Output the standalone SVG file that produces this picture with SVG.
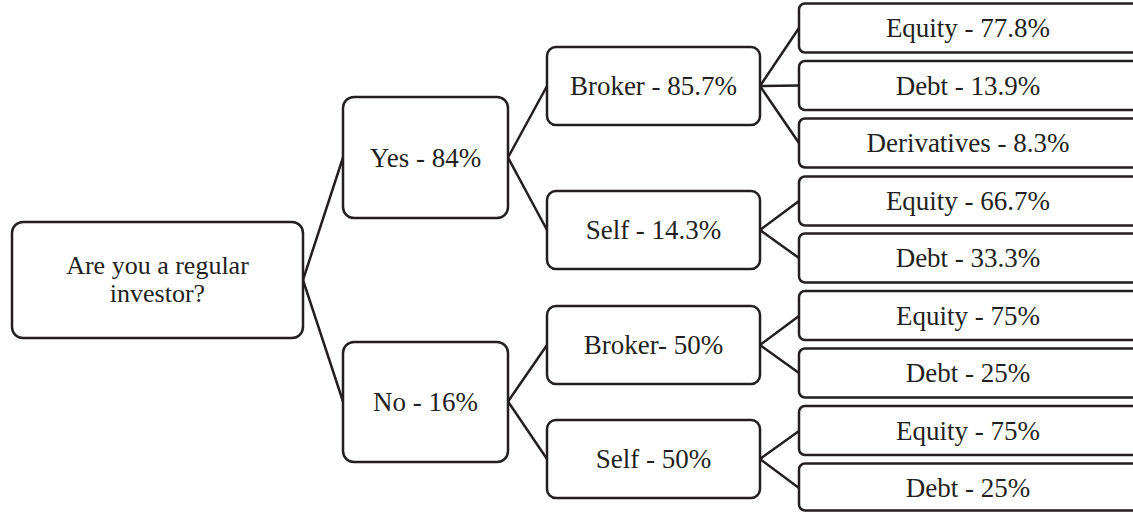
<svg xmlns="http://www.w3.org/2000/svg" width="1133" height="512" viewBox="0 0 1133 512">
<style>
.box{fill:#fff;stroke:#231f20;stroke-width:2.5}
.t{font-family:"Liberation Serif","Times New Roman",serif;font-size:27px;fill:#231f20;text-anchor:middle}
.c{fill:none;stroke:#231f20;stroke-width:2.5}
</style>
<g id="connectors">
<path class="c" d="M303,280 L343,157.5 M303,280 L343,401.5"/>
<path class="c" d="M508,157.5 L547,86 M508,157.5 L547,230"/>
<path class="c" d="M508,401.5 L547,345 M508,401.5 L547,459"/>
<path class="c" d="M760,86 L799,28 M760,86 L799,85.5 M760,86 L799,143"/>
<path class="c" d="M760,230 L799,201 M760,230 L799,258"/>
<path class="c" d="M760,345 L799,316 M760,345 L799,373"/>
<path class="c" d="M760,459 L799,431 M760,459 L799,488"/>
</g>
<g id="root"><rect class="box" x="12" y="222" width="291" height="116" rx="11"/><text class="t" x="157.5" y="273.5" style="font-size:26px">Are you a regular</text><text class="t" x="157.5" y="302" style="font-size:26px">investor?</text></g>
<g id="yes"><rect class="box" x="343" y="97" width="165" height="121" rx="11"/><text class="t" x="425.5" y="166.5">Yes - 84%</text></g>
<g id="no"><rect class="box" x="343" y="342" width="165" height="120" rx="11"/><text class="t" x="425.5" y="411">No - 16%</text></g>
<g id="broker1"><rect class="box" x="547" y="47" width="213" height="78" rx="9"/><text class="t" x="653.5" y="95">Broker - 85.7%</text></g>
<g id="self1"><rect class="box" x="547" y="191" width="213" height="78" rx="9"/><text class="t" x="653.5" y="239">Self - 14.3%</text></g>
<g id="broker2"><rect class="box" x="547" y="306" width="213" height="78" rx="9"/><text class="t" x="653.5" y="354">Broker- 50%</text></g>
<g id="self2"><rect class="box" x="547" y="420" width="213" height="78" rx="9"/><text class="t" x="653.5" y="468">Self - 50%</text></g>
<g id="leaf1"><rect class="box" x="799" y="3.5" width="345" height="49" rx="6"/><text class="t" x="968" y="37">Equity - 77.8%</text></g>
<g id="leaf2"><rect class="box" x="799" y="61" width="345" height="49" rx="6"/><text class="t" x="968" y="94.5">Debt - 13.9%</text></g>
<g id="leaf3"><rect class="box" x="799" y="118.5" width="345" height="49" rx="6"/><text class="t" x="968" y="152">Derivatives - 8.3%</text></g>
<g id="leaf4"><rect class="box" x="799" y="176.5" width="345" height="49" rx="6"/><text class="t" x="968" y="210">Equity - 66.7%</text></g>
<g id="leaf5"><rect class="box" x="799" y="233.5" width="345" height="49" rx="6"/><text class="t" x="968" y="267">Debt - 33.3%</text></g>
<g id="leaf6"><rect class="box" x="799" y="291" width="345" height="49" rx="6"/><text class="t" x="968" y="324.5">Equity - 75%</text></g>
<g id="leaf7"><rect class="box" x="799" y="348.5" width="345" height="49" rx="6"/><text class="t" x="968" y="382">Debt - 25%</text></g>
<g id="leaf8"><rect class="box" x="799" y="406" width="345" height="49" rx="6"/><text class="t" x="968" y="439.5">Equity - 75%</text></g>
<g id="leaf9"><rect class="box" x="799" y="463.5" width="345" height="47" rx="6"/><text class="t" x="968" y="497">Debt - 25%</text></g>
</svg>
